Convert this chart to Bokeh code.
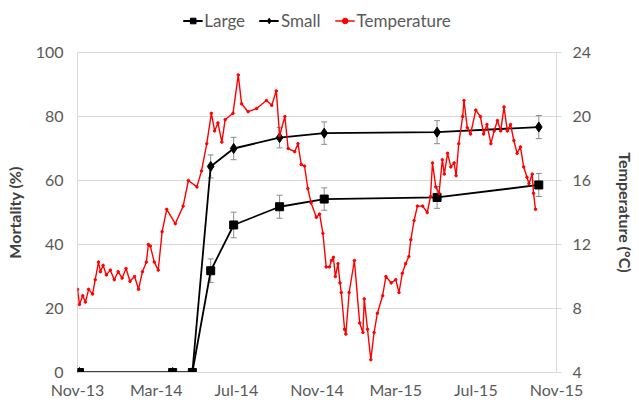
import pandas as pd
from bokeh.plotting import figure
from bokeh.layouts import column
from bokeh.models import (Range1d, LinearAxis, FixedTicker, ColumnDataSource, Whisker,
                          TeeHead, Legend, LegendItem, DatetimeTickFormatter, SingleIntervalTicker)
from bokeh.embed import file_html
from bokeh.resources import INLINE

# ---------------- data ----------------
base_date = "2013-11-01"
axis_end_days = 730

tick_labels = ["Nov-13", "Mar-14", "Jul-14", "Nov-14", "Mar-15", "Jul-15", "Nov-15"]
tick_dates = ["2013-11-01", "2014-03-01", "2014-07-01", "2014-11-01", "2015-03-01", "2015-07-01", "2015-11-01"]

# mortality sampling days (days after 1 Nov 2013)
mort_day = [3, 145, 175, 203, 238, 308, 376, 548, 703]
large = [0, 0, 0, 31.8, 46.1, 51.8, 54.2, 54.7, 58.6]
small = [0, 0, 0, 64.4, 70.0, 73.4, 74.8, 75.1, 76.7]
large_err = [0, 0, 0, 3.7, 4.0, 3.6, 3.5, 3.4, 3.6]
small_err = [0, 0, 0, 3.6, 3.5, 3.2, 3.5, 3.6, 3.6]

# temperature (days after 1 Nov 2013, degC)
temp_day = [0, 3, 8, 12, 17, 23, 27, 32, 35, 39, 44, 50, 56, 62, 68, 74, 80, 87, 93, 99,
            105, 108, 111, 117, 123, 129, 136, 149, 161, 169, 182, 189, 197, 204, 209, 214,
            220, 225, 237, 245, 250, 260, 273, 288, 296, 303, 308, 316, 321, 331, 336, 341,
            346, 351, 356, 364, 369, 374, 379, 384, 387, 390, 393, 397, 400, 402, 407, 409,
            414, 422, 430, 435, 437, 442, 447, 452, 457, 465, 470, 478, 485, 490, 495, 500,
            505, 508, 513, 518, 526, 533, 538, 541, 546, 551, 556, 559, 564, 569, 574, 577,
            581, 587, 589, 594, 599, 607, 614, 619, 624, 630, 635, 640, 645, 650, 655, 660,
            665, 670, 675, 680, 685, 688, 693, 695, 698]
temp_c = [9.2, 8.25, 8.8, 8.4, 9.2, 8.9, 9.8, 10.9, 10.3, 10.7, 10.1, 10.4, 9.8, 10.3, 9.9,
          10.5, 9.7, 10.0, 9.2, 10.3, 10.9, 12.0, 11.9, 10.9, 10.4, 12.8, 14.2, 13.3, 14.4,
          16.0, 15.6, 16.6, 18.3, 20.2, 19.1, 19.6, 18.4, 19.8, 20.2, 22.6, 20.8, 20.3, 20.5,
          21.0, 20.7, 21.6, 18.8, 20.0, 18.0, 17.8, 18.3, 17.0, 16.9, 15.5, 14.6, 13.7, 13.9,
          12.7, 10.6, 10.6, 11.0, 11.2, 10.0, 10.8, 9.6, 9.0, 6.7, 6.4, 9.0, 11.0, 7.1, 6.5,
          8.6, 6.7, 4.8, 6.5, 7.7, 8.8, 10.0, 9.6, 9.8, 9.0, 10.2, 10.8, 11.25, 12.3, 13.5,
          14.4, 14.4, 14.0, 15.0, 17.1, 15.6, 15.2, 17.3, 16.4, 17.7, 16.85, 17.1, 16.3, 18.3,
          20.0, 21.0, 19.3, 18.9, 20.4, 20.0, 18.9, 19.5, 18.3, 19.1, 19.75, 19.1, 20.6, 19.1,
          19.5, 18.5, 17.7, 18.1, 16.85, 16.2, 15.8, 16.4, 15.2, 14.2]

# ---------------- build ----------------
base = pd.Timestamp(base_date)
mort_x = [base + pd.Timedelta(days=d) for d in mort_day]
temp_x = [base + pd.Timedelta(days=d) for d in temp_day]
tick_ms = [pd.Timestamp(t).value / 1e6 for t in tick_dates]

FONT = "Lato"
TXT = "#595959"
W = 638

p = figure(width=W, height=361, x_axis_type="datetime", output_backend="svg",
           toolbar_location=None,
           x_range=Range1d(base, base + pd.Timedelta(days=axis_end_days)),
           y_range=Range1d(0, 100),
           min_border_left=77, min_border_right=79, min_border_top=12, min_border_bottom=28)
p.extra_y_ranges = {"temp": Range1d(4, 24)}
p.background_fill_color = "white"
p.border_fill_color = "white"
p.outline_line_color = "#d9d9d9"
p.outline_line_width = 1

# grid
p.xgrid.grid_line_color = None
p.ygrid.grid_line_color = "#d9d9d9"
p.ygrid.grid_line_width = 1

# x axis
xa = p.xaxis[0]
xa.ticker = FixedTicker(ticks=tick_ms)
fmt = "%b-%y"
xa.formatter = DatetimeTickFormatter(years=fmt, months=fmt, days=fmt, hours=fmt,
                                     minutes=fmt, seconds=fmt, milliseconds=fmt,
                                     microseconds=fmt, hourmin=fmt, minsec=fmt, context=None)
xa.axis_line_color = "#d9d9d9"
xa.major_tick_line_color = None
xa.minor_tick_line_color = None
xa.major_tick_out = 0
xa.minor_tick_out = 0
xa.major_label_standoff = 7
xa.major_label_text_font = FONT
xa.major_label_text_font_size = "16px"
xa.major_label_text_color = TXT

# left axis
ya = p.yaxis[0]
ya.ticker = SingleIntervalTicker(interval=20)
ya.axis_line_color = None
ya.major_tick_line_color = None
ya.minor_tick_line_color = None
ya.major_tick_out = 0
ya.minor_tick_out = 0
ya.major_label_standoff = 14
ya.major_label_text_font = FONT
ya.major_label_text_font_size = "16px"
ya.major_label_text_color = TXT
ya.axis_label = "Mortality (%)"
ya.axis_label_text_font = FONT
ya.axis_label_text_font_style = "bold"
ya.axis_label_text_font_size = "16px"
ya.axis_label_text_color = "#404040"
ya.axis_label_standoff = 9

# right axis
ra = LinearAxis(y_range_name="temp", ticker=SingleIntervalTicker(interval=4))
ra.axis_line_color = "#d9d9d9"
ra.major_tick_line_color = "#d9d9d9"
ra.major_tick_out = 5
ra.major_tick_in = 0
ra.minor_tick_line_color = None
ra.minor_tick_out = 0
ra.major_label_standoff = 11
ra.major_label_text_font = FONT
ra.major_label_text_font_size = "16px"
ra.major_label_text_color = TXT
ra.axis_label = "Temperature (°C)"
ra.axis_label_text_font = FONT
ra.axis_label_text_font_style = "bold"
ra.axis_label_text_font_size = "16px"
ra.axis_label_text_color = "#404040"
ra.axis_label_standoff = 22
p.add_layout(ra, "right")

# error bars
def err_source(vals, errs):
    xs, up, lo = [], [], []
    for x, v, e in zip(mort_x, vals, errs):
        if e > 0:
            xs.append(x); up.append(v + e); lo.append(v - e)
    return ColumnDataSource(dict(x=xs, upper=up, lower=lo))

for vals, errs in ((large, large_err), (small, small_err)):
    w = Whisker(base="x", upper="upper", lower="lower", source=err_source(vals, errs),
                line_color="#8c8c8c", line_width=1,
                upper_head=TeeHead(size=6, line_color="#8c8c8c", line_width=1),
                lower_head=TeeHead(size=6, line_color="#8c8c8c", line_width=1))
    p.add_layout(w)

STY = {
    "Large": dict(marker="square", size=8, color="black", lw=1.8),
    "Small": dict(marker="diamond", size=10, color="black", lw=1.8),
    "Temperature": dict(marker="circle", size=3.5, color="red", lw=1.4),
}

# mortality series
p.line(mort_x, large, line_color="black", line_width=1.8)
p.scatter(mort_x, large, marker="square", size=8, color="black")
p.line(mort_x, small, line_color="black", line_width=1.8)
p.scatter(mort_x, small, marker="diamond", size=10, color="black")

# temperature
p.line(temp_x, temp_c, line_color="red", line_width=1.4, y_range_name="temp")
p.scatter(temp_x, temp_c, marker="circle", size=2.5, color="red", y_range_name="temp")

# ---------------- legend strip above the chart ----------------
lg = figure(width=W, height=40, output_backend="svg", toolbar_location=None,
            x_range=Range1d(0, 1), y_range=Range1d(0, 1), min_border=0)
lg.axis.visible = False
lg.grid.grid_line_color = None
lg.outline_line_color = None
items = []
for name, st in STY.items():
    # one off-screen point so the legend has a glyph to draw
    rl = lg.line([-5, -4], [-5, -5], line_color=st["color"], line_width=st["lw"])
    rs = lg.scatter([-5], [-5], marker=st["marker"], size=st["size"], color=st["color"])
    items.append(LegendItem(label=name, renderers=[rl, rs]))
legend = Legend(items=items, orientation="horizontal", location="center",
                border_line_color=None, background_fill_alpha=0,
                label_text_font=FONT, label_text_font_size="17px", label_text_color=TXT,
                glyph_width=20, glyph_height=14, label_standoff=2, spacing=14,
                padding=0, margin=0, label_height=16)
lg.add_layout(legend, "center")

layout = column(lg, p, spacing=0)
open("out.html", "w").write(file_html(layout, INLINE))
